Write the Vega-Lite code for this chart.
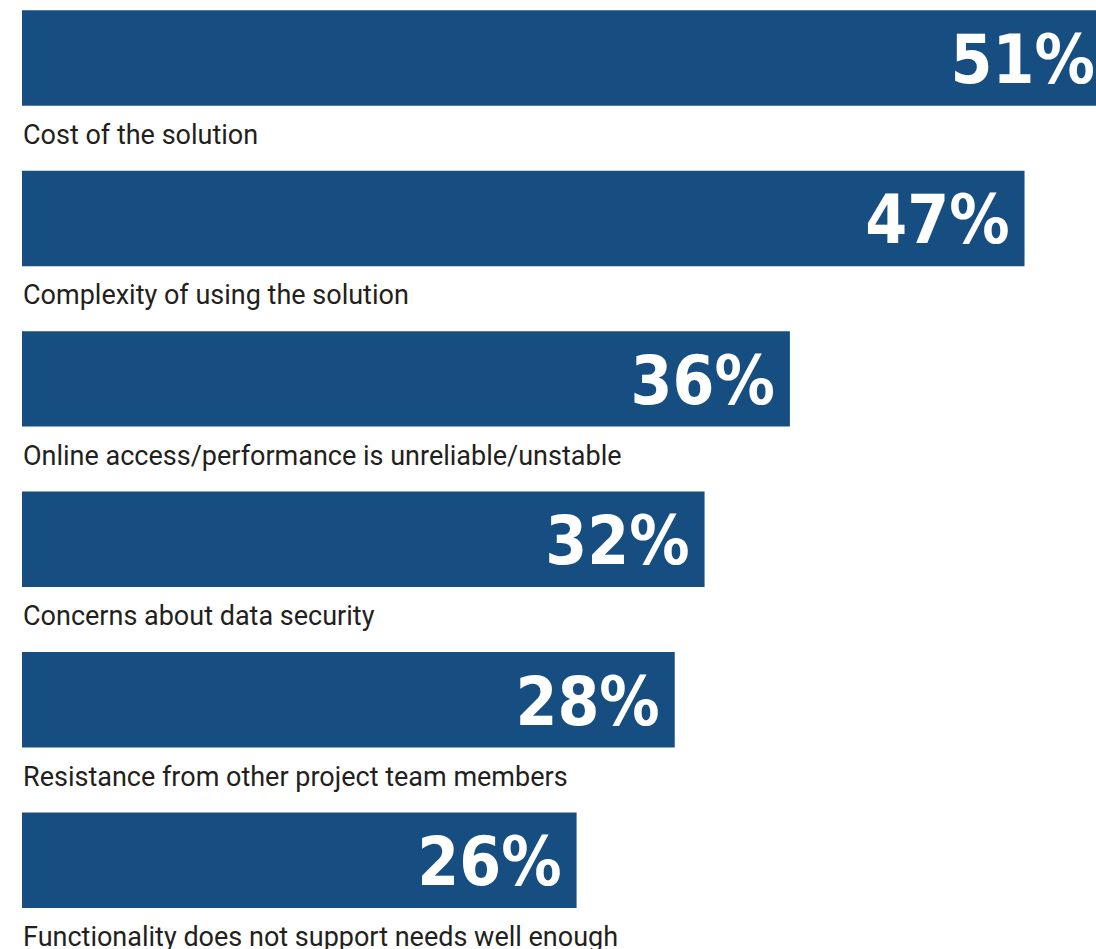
{
  "$schema": "https://vega.github.io/schema/vega-lite/v6.json",
  "width": 1074,
  "height": 949,
  "padding": {"left": 22, "top": 0, "right": 0, "bottom": 0},
  "autosize": {"type": "none"},
  "background": "white",
  "config": {"view": {"stroke": null}},
  "data": {
    "values": [
      {"cause": "Cost of the solution", "pct": 0.51, "bar": 51},
      {"cause": "Complexity of using the solution", "pct": 0.47, "bar": 47},
      {"cause": "Online access/performance is unreliable/unstable", "pct": 0.36, "bar": 36},
      {"cause": "Concerns about data security", "pct": 0.32, "bar": 32},
      {"cause": "Resistance from other project team members", "pct": 0.28, "bar": 30.6},
      {"cause": "Functionality does not support needs well enough", "pct": 0.26, "bar": 26}
    ]
  },
  "encoding": {
    "y": {
      "field": "cause",
      "type": "nominal",
      "sort": null,
      "axis": null,
      "scale": {"paddingInner": 0.405, "paddingOuter": 0.16, "align": 0.2}
    }
  },
  "layer": [
    {
      "mark": {"type": "bar", "color": "#174e82"},
      "encoding": {
        "x": {"field": "bar", "type": "quantitative", "axis": null, "scale": {"domain": [0, 50.35], "nice": false, "zero": true}}
      }
    },
    {
      "mark": {
        "type": "text",
        "align": "right",
        "baseline": "alphabetic",
        "dx": -15,
        "dy": 25,
        "font": "DejaVu Sans Condensed",
        "fontWeight": "bold",
        "fontSize": 67,
        "color": "white"
      },
      "encoding": {
        "x": {"field": "bar", "type": "quantitative"},
        "text": {"field": "pct", "type": "quantitative", "format": ".0%"}
      }
    },
    {
      "mark": {
        "type": "text",
        "align": "left",
        "baseline": "alphabetic",
        "dx": 1,
        "dy": 86,
        "font": "Roboto",
        "fontSize": 27,
        "color": "#231f20"
      },
      "encoding": {
        "x": {"datum": 0, "type": "quantitative"},
        "text": {"field": "cause", "type": "nominal"}
      }
    }
  ]
}
